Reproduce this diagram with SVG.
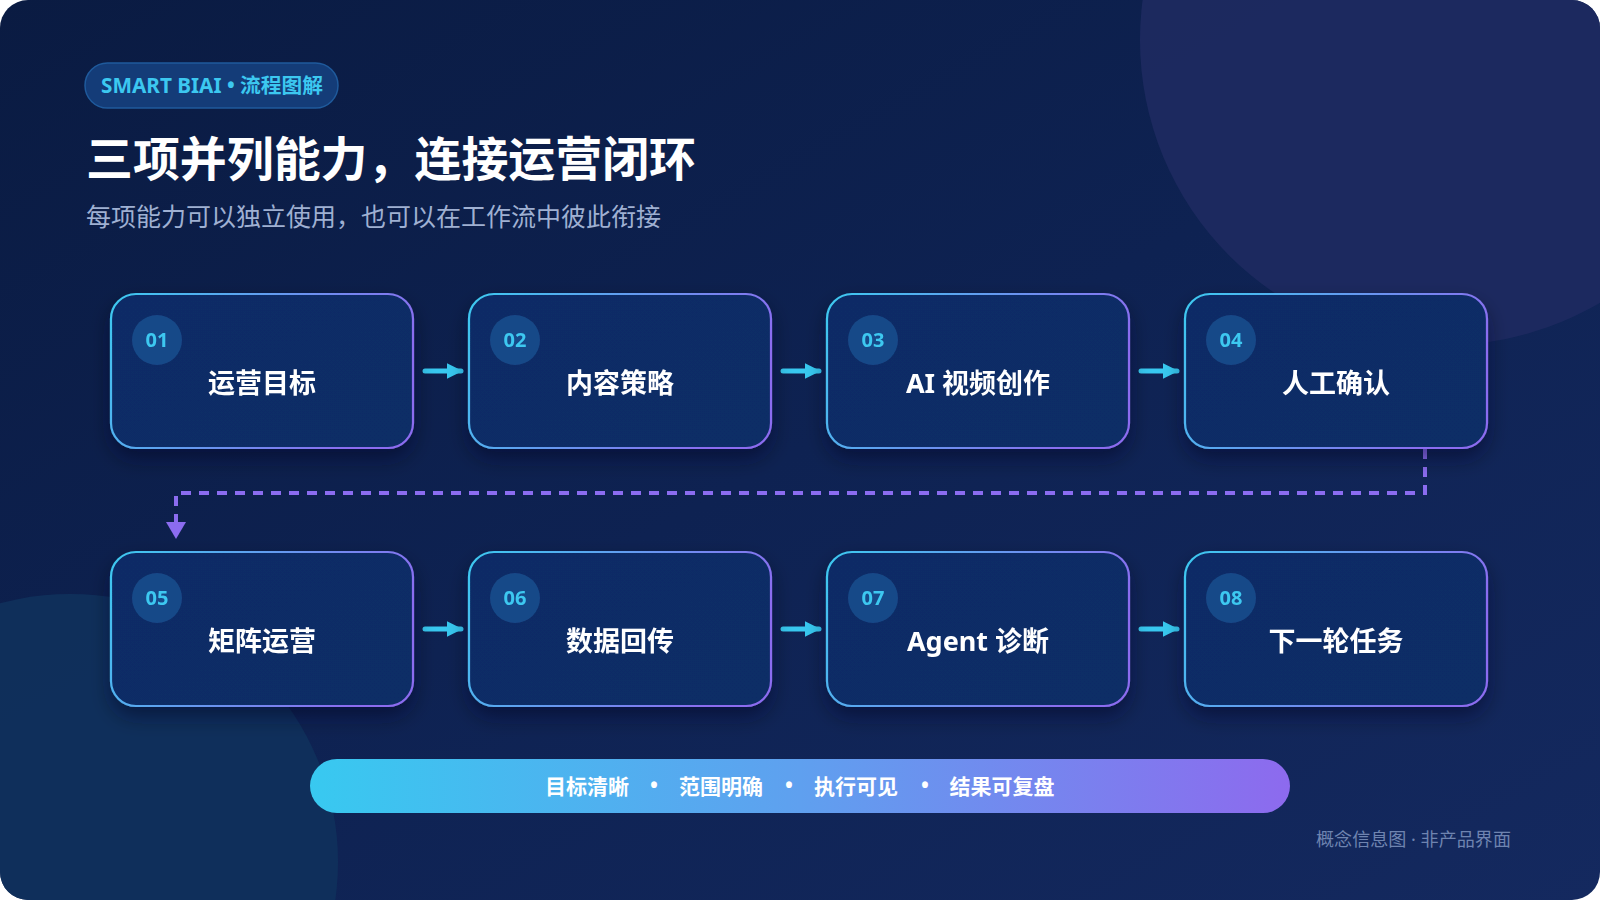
<svg xmlns="http://www.w3.org/2000/svg" width="1600" height="900" viewBox="0 0 1600 900">
<defs>
  <linearGradient id="bg" x1="0" y1="0" x2="1" y2="1">
    <stop offset="0" stop-color="#0a1b42"/>
    <stop offset="0.5" stop-color="#0e2252"/>
    <stop offset="1" stop-color="#14295f"/>
  </linearGradient>
  <linearGradient id="cardStroke" x1="0" y1="0" x2="1" y2="0.3">
    <stop offset="0" stop-color="#3ccaf0"/>
    <stop offset="1" stop-color="#8b6cf0"/>
  </linearGradient>
  <linearGradient id="cardFill" x1="0" y1="0" x2="1" y2="1">
    <stop offset="0" stop-color="#0c2c66"/>
    <stop offset="1" stop-color="#0f2d66"/>
  </linearGradient>
  <linearGradient id="barFill" x1="0" y1="0" x2="1" y2="0">
    <stop offset="0" stop-color="#38c9f0"/>
    <stop offset="0.5" stop-color="#5fa0ef"/>
    <stop offset="1" stop-color="#8d6aee"/>
  </linearGradient>
  <clipPath id="canvasClip"><rect x="0" y="0" width="1600" height="900" rx="28"/></clipPath>
  <filter id="shadow" x="-20%" y="-20%" width="140%" height="160%">
    <feDropShadow dx="0" dy="10" stdDeviation="10" flood-color="#030a20" flood-opacity="0.45"/>
  </filter>
  <marker id="arrowCyan" viewBox="0 0 10 10" refX="9" refY="5" markerWidth="3.2" markerHeight="3.6" orient="auto" markerUnits="strokeWidth">
    <path d="M0,0 L10,5 L0,10 Z" fill="#38c8f0"/>
  </marker>
  <style>
    .cjk { font-family: "Noto Sans", "Noto Sans CJK SC", sans-serif; }
    .card rect.box { fill: url(#cardFill); stroke: url(#cardStroke); stroke-width: 2.2; }
    .badge { fill: #1a4b8c; opacity: 0.9; }
    .num { font-family: "Noto Sans", "Noto Sans CJK SC", sans-serif; font-size: 20px; font-weight: 700; fill: #3cc8f0; text-anchor: middle; }
    .label { font-family: "Noto Sans", "Noto Sans CJK SC", sans-serif; font-size: 27px; font-weight: 700; fill: #ffffff; text-anchor: middle; }
    .flow { stroke: #38c8f0; stroke-width: 5; stroke-linecap: round; fill: none; }
    .loop { stroke: #8b6cf0; stroke-width: 4; stroke-dasharray: 10 8; fill: none; }
    .bartext { font-family: "Noto Sans", "Noto Sans CJK SC", sans-serif; font-size: 21px; font-weight: 700; fill: #ffffff; text-anchor: middle; }
  </style>
</defs>

<rect x="0" y="0" width="1600" height="900" fill="#ffffff"/>
<g clip-path="url(#canvasClip)">
  <rect x="0" y="0" width="1600" height="900" fill="url(#bg)"/>
  <circle cx="1445" cy="40" r="305" fill="#1e2a60" opacity="0.9"/>
  <circle cx="70" cy="862" r="268" fill="#0f315c" opacity="0.9"/>
</g>

<g id="header">
  <rect x="85" y="63" width="253" height="45" rx="22.5" fill="#143c78" stroke="#1f5a9c" stroke-width="1.5"/>
  <text x="101" y="93" class="cjk" font-size="20.5" font-weight="700" fill="#3cc8f0" textLength="222" lengthAdjust="spacingAndGlyphs">SMART BIAI • 流程图解</text>
  <text x="86" y="176" class="cjk" font-size="47" font-weight="700" fill="#ffffff" textLength="610" lengthAdjust="spacingAndGlyphs">三项并列能力，连接运营闭环</text>
  <text x="86" y="226" class="cjk" font-size="25" fill="#9fb0d2" textLength="575" lengthAdjust="spacingAndGlyphs">每项能力可以独立使用，也可以在工作流中彼此衔接</text>
</g>

<g id="connectors">
  <path class="flow" d="M425,371 L461,371" marker-end="url(#arrowCyan)"/>
  <path class="flow" d="M783,371 L819,371" marker-end="url(#arrowCyan)"/>
  <path class="flow" d="M1141,371 L1177,371" marker-end="url(#arrowCyan)"/>
  <path class="flow" d="M425,629 L461,629" marker-end="url(#arrowCyan)"/>
  <path class="flow" d="M783,629 L819,629" marker-end="url(#arrowCyan)"/>
  <path class="flow" d="M1141,629 L1177,629" marker-end="url(#arrowCyan)"/>
  <path class="loop" d="M1425,449 L1425,493 L176,493 L176,524"/>
  <path d="M166,522 L186,522 L176,539 Z" fill="#8b6cf0"/>
</g>

<g id="node-01" class="card" filter="url(#shadow)">
  <rect class="box" x="111" y="294" width="302" height="154" rx="25"/>
  <circle class="badge" cx="157" cy="340" r="25"/>
  <text class="num" x="157" y="347">01</text>
  <text class="label" x="262" y="393">运营目标</text>
</g>
<g id="node-02" class="card" filter="url(#shadow)">
  <rect class="box" x="469" y="294" width="302" height="154" rx="25"/>
  <circle class="badge" cx="515" cy="340" r="25"/>
  <text class="num" x="515" y="347">02</text>
  <text class="label" x="620" y="393">内容策略</text>
</g>
<g id="node-03" class="card" filter="url(#shadow)">
  <rect class="box" x="827" y="294" width="302" height="154" rx="25"/>
  <circle class="badge" cx="873" cy="340" r="25"/>
  <text class="num" x="873" y="347">03</text>
  <text class="label" x="978" y="393">AI 视频创作</text>
</g>
<g id="node-04" class="card" filter="url(#shadow)">
  <rect class="box" x="1185" y="294" width="302" height="154" rx="25"/>
  <circle class="badge" cx="1231" cy="340" r="25"/>
  <text class="num" x="1231" y="347">04</text>
  <text class="label" x="1336" y="393">人工确认</text>
</g>
<g id="node-05" class="card" filter="url(#shadow)">
  <rect class="box" x="111" y="552" width="302" height="154" rx="25"/>
  <circle class="badge" cx="157" cy="598" r="25"/>
  <text class="num" x="157" y="605">05</text>
  <text class="label" x="262" y="651">矩阵运营</text>
</g>
<g id="node-06" class="card" filter="url(#shadow)">
  <rect class="box" x="469" y="552" width="302" height="154" rx="25"/>
  <circle class="badge" cx="515" cy="598" r="25"/>
  <text class="num" x="515" y="605">06</text>
  <text class="label" x="620" y="651">数据回传</text>
</g>
<g id="node-07" class="card" filter="url(#shadow)">
  <rect class="box" x="827" y="552" width="302" height="154" rx="25"/>
  <circle class="badge" cx="873" cy="598" r="25"/>
  <text class="num" x="873" y="605">07</text>
  <text class="label" x="978" y="651">Agent 诊断</text>
</g>
<g id="node-08" class="card" filter="url(#shadow)">
  <rect class="box" x="1185" y="552" width="302" height="154" rx="25"/>
  <circle class="badge" cx="1231" cy="598" r="25"/>
  <text class="num" x="1231" y="605">08</text>
  <text class="label" x="1336" y="651">下一轮任务</text>
</g>

<g id="summary-bar">
  <rect x="310" y="759" width="980" height="54" rx="27" fill="url(#barFill)"/>
  <text class="bartext" x="587" y="794">目标清晰</text>
  <text class="bartext" x="654" y="793">•</text>
  <text class="bartext" x="721" y="794">范围明确</text>
  <text class="bartext" x="789" y="793">•</text>
  <text class="bartext" x="856" y="794">执行可见</text>
  <text class="bartext" x="925" y="793">•</text>
  <text class="bartext" x="1002" y="794">结果可复盘</text>
</g>

<text x="1316" y="846" class="cjk" font-size="18" fill="#6f84b0" textLength="195" lengthAdjust="spacingAndGlyphs">概念信息图 · 非产品界面</text>
</svg>
